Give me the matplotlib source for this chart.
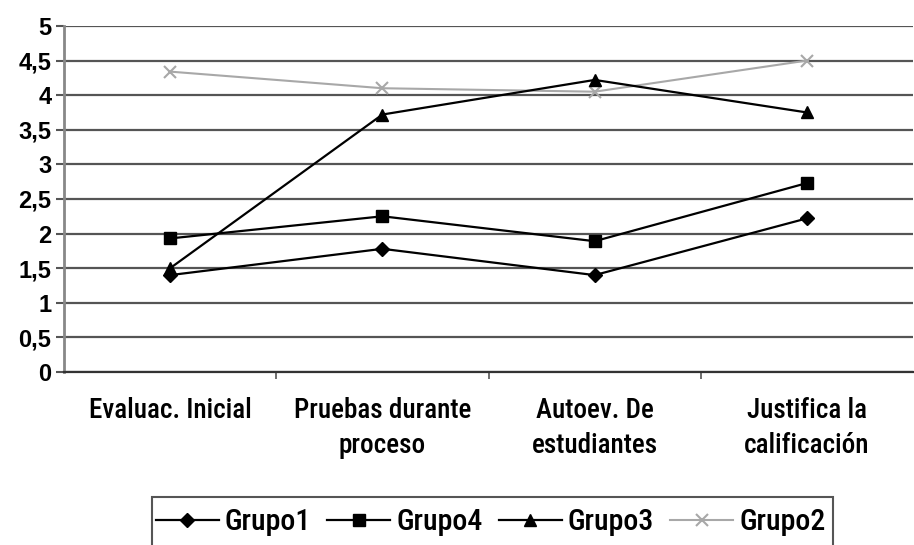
import matplotlib.pyplot as plt
from matplotlib.patches import Rectangle
from matplotlib.ticker import FixedLocator

# Datos
categorias = ["Evaluac. Inicial", "Pruebas durante\nproceso",
              "Autoev. De\nestudiantes", "Justifica la\ncalificación"]
grupo1 = [1.40, 1.78, 1.40, 2.22]
grupo4 = [1.93, 2.25, 1.89, 2.73]
grupo3 = [1.50, 3.72, 4.22, 3.75]
grupo2 = [4.34, 4.10, 4.05, 4.50]
y_ticks = [0, 0.5, 1, 1.5, 2, 2.5, 3, 3.5, 4, 4.5, 5]
y_labels = ["0", "0,5", "1", "1,5", "2", "2,5", "3", "3,5", "4", "4,5", "5"]

COND = ['Roboto Condensed', 'DejaVu Sans']
W, H = 914, 545

fig = plt.figure(figsize=(W / 100, H / 100), dpi=100)
ax = fig.add_axes([0.070, 0.3174, 0.929, 0.635])

x = range(len(categorias))
ax.plot(x, grupo1, color='black', lw=1.6, marker='D', ms=7, label='Grupo1', zorder=4)
ax.plot(x, grupo4, color='black', lw=1.6, marker='s', ms=8, label='Grupo4', zorder=4)
ax.plot(x, grupo3, color='black', lw=1.6, marker='^', ms=9, label='Grupo3', zorder=4)
ax.plot(x, grupo2, color='#a8a8a8', lw=1.5, marker='x', ms=9, mew=1.5, label='Grupo2', zorder=3)

ax.set_xlim(-0.5, 3.5)
ax.set_ylim(0, 5)
ax.set_yticks(y_ticks)
ax.set_yticklabels(y_labels, fontsize=17, family='Liberation Sans', fontweight='bold')
ax.set_xticks(list(x))
ax.set_xticklabels(categorias, fontsize=19.5, family=COND, fontweight='medium',
                   linespacing=1.4)
ax.xaxis.set_minor_locator(FixedLocator([0.5, 1.5, 2.5]))
ax.tick_params(axis='x', which='major', length=0, pad=18)
ax.tick_params(axis='x', which='minor', length=5, width=1.2, color='#555555')
ax.tick_params(axis='y', length=6, width=1.5, color='#555555', pad=3)

ax.grid(axis='y', color='#555555', lw=1.6)
ax.set_axisbelow(True)
for s in ['top', 'right']:
    ax.spines[s].set_visible(False)
ax.spines['left'].set_color('#888888')
ax.spines['left'].set_linewidth(2)
ax.spines['bottom'].set_color('#333333')
ax.spines['bottom'].set_linewidth(1.6)

# leyenda sin marco; el marco se dibuja aparte porque sale por debajo de la figura
fig.legend(loc='center left', bbox_to_anchor=(156 / W, 1 - 522 / H), ncol=4,
           prop={'family': COND, 'size': 21.5, 'weight': 'medium'}, frameon=False,
           handlelength=2.1, handletextpad=0.2, columnspacing=0.55,
           borderpad=0, borderaxespad=0)
fig.patches.append(Rectangle((152 / W, -0.05), (833 - 152) / W, 0.05 + 1 - 497 / H,
                             transform=fig.transFigure, fill=False,
                             edgecolor='#555555', lw=1.5))

fig.savefig('out.png', dpi=100)
